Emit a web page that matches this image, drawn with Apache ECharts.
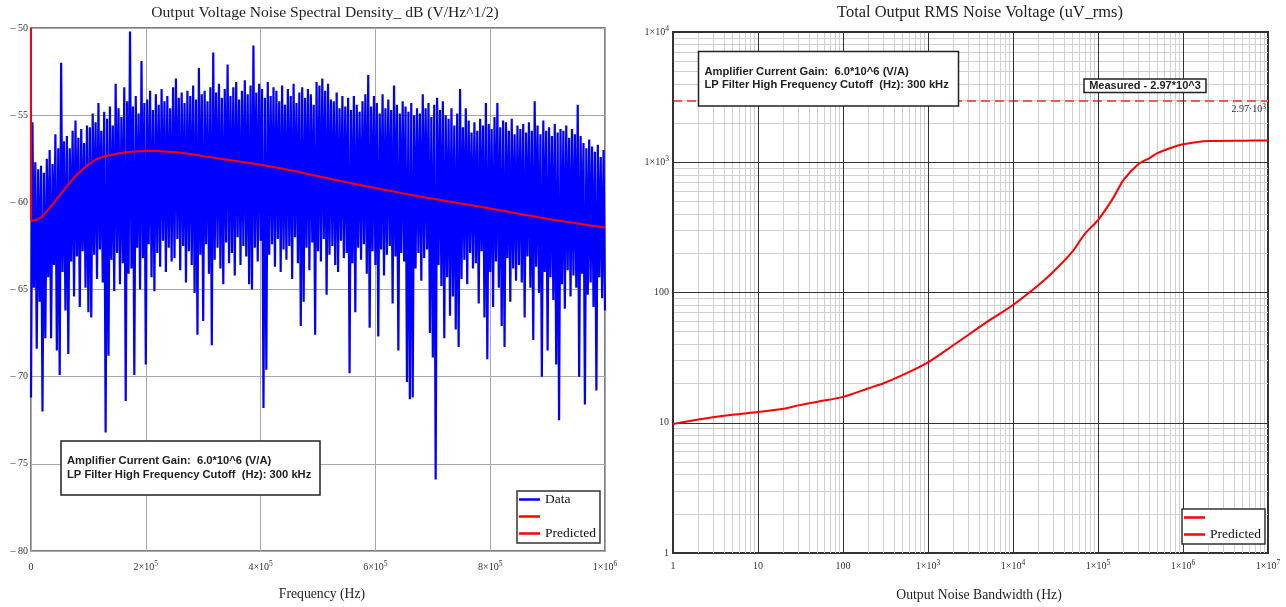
<!DOCTYPE html>
<html>
<head>
<meta charset="utf-8">
<title>Output noise</title>
<script src="https://cdn.jsdelivr.net/npm/echarts@6/dist/echarts.min.js"></script>
<style>
  html, body { margin: 0; padding: 0; background: #fff; }
  #chart { width: 1286px; height: 607px; }
</style>
</head>
<body>
<div id="chart"></div>
<script>
// ---- Output voltage noise spectral density (dB re V/Hz^1/2), uniform bins ----
const spectrumStepHz = 2500;
const spectrumDb = [
  -71.2, -55.4, -64.9, -57.7, -68.4, -58.1, -65.7, -57.9, -72.0, -58.3,
  -67.8, -57.5, -64.3, -57.0, -67.8, -57.8, -63.6, -56.1, -68.5, -56.9,
  -69.9, -52.0, -64.0, -56.5, -66.2, -56.2, -68.7, -56.9, -63.4, -55.9,
  -65.4, -55.3, -63.1, -56.3, -66.0, -55.8, -62.8, -56.6, -64.9, -55.6,
  -66.3, -55.7, -66.6, -54.9, -63.0, -55.4, -64.4, -54.3, -62.7, -55.9,
  -64.6, -54.8, -73.2, -55.2, -68.8, -54.5, -63.3, -55.6, -65.1, -53.2,
  -62.9, -54.6, -64.7, -55.1, -63.5, -53.4, -71.4, -54.2, -64.1, -50.2,
  -63.8, -54.5, -69.9, -53.9, -62.6, -54.9, -65.0, -51.9, -63.2, -54.3,
  -69.3, -54.1, -62.4, -53.6, -64.3, -54.7, -65.1, -53.8, -62.9, -54.4,
  -63.7, -53.5, -62.2, -54.2, -64.0, -53.9, -62.6, -54.6, -63.4, -53.4,
  -63.2, -52.9, -62.1, -54.0, -63.9, -53.7, -62.5, -54.3, -64.6, -53.6,
  -62.8, -53.9, -63.6, -53.3, -65.2, -54.1, -67.6, -52.3, -63.0, -53.8,
  -66.8, -53.6, -62.4, -54.2, -64.1, -53.4, -68.2, -51.4, -63.3, -53.7,
  -62.6, -53.2, -63.8, -54.0, -64.7, -53.5, -62.3, -52.1, -63.5, -53.9,
  -62.9, -53.4, -64.2, -53.1, -62.0, -54.1, -63.6, -53.6, -62.5, -53.0,
  -63.1, -53.8, -64.7, -53.3, -65.0, -51.0, -62.6, -53.7, -63.4, -53.2,
  -62.2, -53.5, -71.8, -54.0, -69.6, -53.1, -63.0, -53.9, -62.4, -53.4,
  -63.7, -53.6, -62.1, -54.2, -64.0, -53.3, -62.7, -54.4, -63.3, -53.5,
  -62.5, -53.9, -64.4, -53.2, -62.0, -54.3, -63.5, -53.7, -67.1, -53.4,
  -65.7, -54.0, -62.6, -53.5, -63.9, -53.8, -62.3, -54.4, -67.6, -53.1,
  -62.8, -53.3, -63.4, -52.9, -62.1, -53.6, -65.3, -53.2, -63.0, -54.1,
  -62.5, -54.2, -63.6, -53.7, -64.0, -54.6, -62.2, -53.9, -63.2, -54.5,
  -62.9, -54.0, -69.8, -54.7, -63.5, -53.9, -66.3, -54.4, -62.6, -54.8,
  -63.3, -54.2, -62.4, -53.8, -64.1, -52.7, -67.2, -54.5, -62.8, -53.9,
  -63.6, -54.3, -67.7, -54.9, -62.7, -53.8, -64.2, -54.6, -63.0, -54.1,
  -62.5, -54.7, -65.8, -53.3, -63.1, -54.4, -68.5, -54.9, -62.9, -54.2,
  -63.4, -54.5, -70.3, -54.8, -71.3, -54.3, -71.2, -55.0, -63.8, -54.6,
  -62.9, -54.9, -64.5, -53.8, -63.2, -54.6, -62.7, -54.3, -67.5, -55.1,
  -68.9, -54.4, -75.9, -54.0, -63.6, -54.7, -64.8, -54.2, -67.8, -55.0,
  -64.3, -55.2, -66.5, -54.6, -65.4, -55.6, -67.3, -54.9, -68.3, -53.5,
  -64.4, -55.7, -63.3, -54.6, -64.7, -55.3, -62.9, -56.0, -63.8, -55.4,
  -63.5, -55.9, -65.8, -55.2, -62.8, -55.6, -66.6, -54.3, -69.0, -55.5,
  -64.0, -55.8, -66.0, -55.1, -63.4, -54.3, -64.9, -55.7, -67.1, -55.3,
  -68.3, -55.4, -63.2, -55.9, -65.7, -55.2, -63.8, -56.1, -64.5, -55.6,
  -63.6, -55.8, -64.6, -55.5, -66.6, -56.0, -63.1, -55.4, -64.9, -55.9,
  -67.9, -54.2, -63.7, -55.6, -65.2, -56.1, -70.0, -55.3, -64.0, -55.9,
  -68.5, -55.7, -64.3, -56.2, -65.6, -55.5, -69.3, -56.0, -72.5, -55.8,
  -64.7, -55.9, -66.1, -55.6, -63.9, -56.3, -65.4, -55.8, -64.2, -56.1,
  -64.9, -54.4, -70.0, -56.2, -64.1, -56.6, -71.6, -56.9, -65.3, -56.4,
  -64.6, -56.8, -66.0, -57.1, -70.8, -56.7, -64.3, -57.4, -65.5, -57.0,
  -66.2
];

// ---- Predicted spectral density ----
const predictedFreqHz = [
  0, 10e3, 20e3, 30e3, 40e3, 50e3, 60e3, 70e3, 80e3, 90e3, 100e3, 120e3, 140e3,
  160e3, 180e3, 200e3, 220e3, 240e3, 260e3, 280e3, 300e3, 350e3, 400e3, 450e3,
  500e3, 550e3, 600e3, 650e3, 700e3, 750e3, 800e3, 850e3, 900e3, 950e3, 1000e3
];
const predictedDb = [
  -61.05, -61.0, -60.8, -60.42, -60.02, -59.6, -59.18, -58.78, -58.42, -58.1, -57.82, -57.45, -57.28,
  -57.16, -57.08, -57.05, -57.05, -57.1, -57.15, -57.24, -57.35, -57.6, -57.85, -58.15,
  -58.5, -58.85, -59.18, -59.5, -59.8, -60.07, -60.35, -60.65, -60.95, -61.2, -61.45
];
// DC term of the prediction, off the top of the scale
const predictedDcDb = [-50, -61.05];

// ---- Total output RMS noise vs. noise bandwidth ----
const bandwidthHz = [
  1, 2, 5, 10, 20, 30, 50, 100, 200, 300, 500, 1e3, 2e3, 5e3, 1e4, 2e4, 3e4, 5e4,
  7e4, 1e5, 1.5e5, 2e5, 3e5, 4e5, 5e5, 7e5, 1e6, 2e6, 5e6, 1e7
];
const rmsNoiseUv = [
  9.77, 10.6, 11.5, 12.1, 12.8, 13.6, 14.5, 15.8, 18.4, 20.1, 23.2, 29.1, 39.5, 59.7, 80.2, 114, 145, 206,
  282, 360, 528, 732, 970, 1073, 1173, 1281, 1375, 1458, 1465, 1466
];
const measuredRmsUv = 2970;

const gainText = 'Amplifier Current Gain:  6.0*10^6 (V/A)';
const cutoffText = 'LP Filter High Frequency Cutoff  (Hz): 300 kHz';

const SERIF = '"Liberation Serif", "Times New Roman", serif';
const SANS = '"Liberation Sans", Arial, sans-serif';
const LABEL = '#333';

// "m×10^e" with a raised exponent
function sciRich(v, sep) {
  const exp = Math.floor(Math.log10(v) + 1e-9);
  const m = +(v / Math.pow(10, exp)).toFixed(2);
  return '{b|' + m + (sep || '×') + '10}{s|' + exp + '}';
}
const tickRich = {
  b: { fontFamily: SERIF, fontSize: 10, color: LABEL, lineHeight: 14 },
  s: { fontFamily: SERIF, fontSize: 7.5, color: LABEL, lineHeight: 8, verticalAlign: 'top' }
};

const spectrumPoints = spectrumDb.map((v, i) => [i * spectrumStepHz, v]);
const predictedPoints = predictedFreqHz.map((f, i) => [f, predictedDb[i]]);
const predictedDcPoints = predictedDcDb.map(v => [0, v]);
const rmsPoints = bandwidthHz.map((f, i) => [f, rmsNoiseUv[i]]);

// minor log grid (2..9 of each decade)
const minorX = [], minorY = [];
for (let e = 0; e < 7; e++) for (let m = 2; m <= 9; m++) minorX.push(m * Math.pow(10, e));
for (let e = 0; e < 4; e++) for (let m = 2; m <= 9; m++) minorY.push(m * Math.pow(10, e));

const legendBase = {
  orient: 'vertical', icon: 'rect', itemWidth: 21, itemHeight: 2.5, itemGap: 2,
  padding: [1, 4, 2, 2], backgroundColor: '#fff', borderColor: '#333', borderWidth: 1.5,
  selectedMode: false, z: 20,
  textStyle: { fontFamily: SERIF, fontSize: 13.5, color: '#111', lineHeight: 15 }
};

function noteBox(x, y, w, h, lines) {
  return {
    type: 'group', x: x, y: y, z: 30,
    children: [
      { type: 'rect', z: 30, shape: { x: 0, y: 0, width: w, height: h },
        style: { fill: '#fff', stroke: '#222', lineWidth: 1.5 } }
    ].concat(lines.map((t, k) => ({
      type: 'text', z: 31, x: 6, y: 20 + k * 13.5,
      style: { text: t, font: 'bold 11.2px ' + SANS, fill: '#222', verticalAlign: 'middle' }
    })))
  };
}

const option = {
  animation: false,
  backgroundColor: '#fff',
  title: [
    { text: 'Output Voltage Noise Spectral Density_ dB (V/Hz^1/2)', left: 320, top: 0, textAlign: 'center',
      textStyle: { fontFamily: SERIF, fontSize: 15.6, fontWeight: 'normal', color: '#222' } },
    { text: 'Total Output RMS Noise Voltage (uV_rms)', left: 975, top: 0, textAlign: 'center',
      textStyle: { fontFamily: SERIF, fontSize: 16.4, fontWeight: 'normal', color: '#222' } }
  ],
  grid: [
    { left: 31, top: 28, right: 681, bottom: 56, show: true, borderColor: '#555', borderWidth: 1.5, backgroundColor: '#fff' },
    { left: 673, top: 32, right: 18, bottom: 54, show: true, borderColor: '#333', borderWidth: 2, backgroundColor: '#fff' }
  ],
  legend: [
    Object.assign({}, legendBase, { data: ['Data', '\u00a0', 'Predicted'], left: 517, top: 491 }),
    Object.assign({}, legendBase, { data: ['\u2002', 'Predicted'], left: 1182, top: 509 })
  ],
  xAxis: [
    { gridIndex: 0, type: 'value', min: 0, max: 1e6, interval: 2e5,
      name: 'Frequency (Hz)', nameLocation: 'middle', nameGap: 36,
      nameTextStyle: { fontFamily: SERIF, fontSize: 13.7, color: '#222', padding: [0, 0, 0, 8] },
      axisLine: { show: false }, axisTick: { show: false },
      splitLine: { show: true, lineStyle: { color: '#a8a8a8', width: 1 } },
      axisLabel: { margin: 9, showMinLabel: true, showMaxLabel: true,
        formatter: v => v === 0 ? '{b|0}' : sciRich(v), rich: tickRich } },
    { gridIndex: 1, type: 'log', logBase: 10, min: 1, max: 1e7, splitNumber: 7, z: 6,
      name: 'Output Noise Bandwidth (Hz)', nameLocation: 'middle', nameGap: 35,
      nameTextStyle: { fontFamily: SERIF, fontSize: 13.7, color: '#222', padding: [0, 0, 0, 17] },
      axisLine: { show: false }, axisTick: { show: false },
      splitLine: { show: true, lineStyle: { color: '#333', width: 1 } },
      axisLabel: { margin: 6, showMinLabel: true, showMaxLabel: true,
        formatter: v => { v = Math.round(v); return v < 1000 ? '{b|' + v + '}' : sciRich(v); }, rich: tickRich } }
  ],
  yAxis: [
    { gridIndex: 0, type: 'value', min: -80, max: -50, interval: 5,
      axisLine: { show: false }, axisTick: { show: false },
      splitLine: { show: true, lineStyle: { color: '#a8a8a8', width: 1 } },
      axisLabel: { margin: 3, fontFamily: SERIF, fontSize: 10, color: LABEL,
        formatter: v => '\u2013 ' + Math.abs(v) } },
    { gridIndex: 1, type: 'log', logBase: 10, min: 1, max: 1e4, z: 6,
      axisLine: { show: false }, axisTick: { show: false },
      splitLine: { show: true, lineStyle: { color: '#333', width: 1 } },
      axisLabel: { margin: 4, showMinLabel: true, showMaxLabel: true,
        formatter: v => { v = Math.round(v); return v < 1000 ? '{b|' + v + '}' : sciRich(v); }, rich: tickRich } }
  ],
  series: [
    { name: 'Data', type: 'line', xAxisIndex: 0, yAxisIndex: 0, data: spectrumPoints,
      color: '#0000ff', showSymbol: false, symbol: 'none', z: 2,
      lineStyle: { color: '#0000ff', width: 2.2, join: 'miter' } },
    { name: '\u00a0', type: 'line', xAxisIndex: 0, yAxisIndex: 0, data: predictedDcPoints,
      color: '#ff0000', symbol: 'none', z: 3, clip: true,
      lineStyle: { color: '#ff0000', width: 2 } },
    { name: 'Predicted', type: 'line', xAxisIndex: 0, yAxisIndex: 0, data: predictedPoints,
      color: '#ff0000', symbol: 'none', smooth: 0.3, z: 3,
      lineStyle: { color: '#ff0000', width: 2 } },

    // light minor grid of the log-log plot
    { name: 'minor', type: 'line', xAxisIndex: 1, yAxisIndex: 1, data: [], silent: true,
      markLine: { silent: true, symbol: ['none', 'none'], animation: false,
        label: { show: false }, emphasis: { disabled: true },
        lineStyle: { color: '#d0d0d0', width: 1, type: 'solid' },
        data: minorX.map(v => ({ xAxis: v })).concat(minorY.map(v => ({ yAxis: v }))) } },
    // measured RMS level
    { name: 'measured', type: 'line', xAxisIndex: 1, yAxisIndex: 1, data: [], silent: true,
      markLine: { silent: true, symbol: ['none', 'none'], animation: false,
        emphasis: { disabled: true },
        lineStyle: { color: '#f05a5a', width: 2, type: [9, 5] },
        label: { show: true, position: 'insideEndBottom', distance: 2,
          formatter: () => sciRich(measuredRmsUv, '·'), rich: tickRich },
        data: [{ yAxis: measuredRmsUv }] } },
    { name: '\u2002', type: 'line', xAxisIndex: 1, yAxisIndex: 1, data: [],
      color: '#ff0000', symbol: 'none', lineStyle: { color: '#ff0000', width: 2 } },
    { name: 'Predicted', type: 'line', xAxisIndex: 1, yAxisIndex: 1, data: rmsPoints,
      color: '#ff0000', symbol: 'none', smooth: 0.3, z: 8,
      lineStyle: { color: '#ff0000', width: 2 } }
  ],
  graphic: [
    noteBox(61, 441, 259, 54, [gainText, cutoffText]),
    noteBox(698.5, 51.5, 260, 54.5, [gainText, cutoffText]),
    { type: 'group', x: 1084, y: 79, z: 30, children: [
      { type: 'rect', z: 30, shape: { x: 0, y: 0, width: 122, height: 13.5 },
        style: { fill: '#fff', stroke: '#222', lineWidth: 1.5 } },
      { type: 'text', z: 31, x: 61, y: 7,
        style: { text: 'Measured - ' + (measuredRmsUv / 1000).toFixed(2) + '*10^3',
          font: 'bold 11px ' + SANS, fill: '#222', align: 'center', verticalAlign: 'middle' } }
    ] }
  ]
};

const chart = echarts.init(document.getElementById('chart'), null, { renderer: 'canvas' });
chart.setOption(option);
</script>
</body>
</html>
